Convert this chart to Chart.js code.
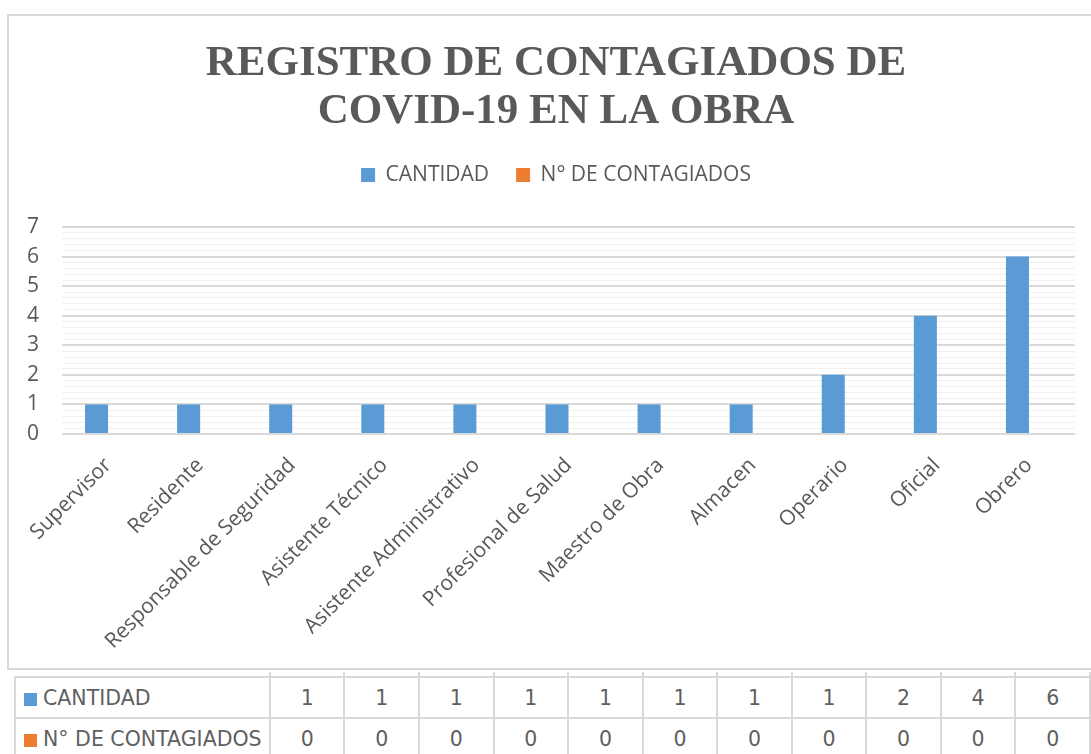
<!DOCTYPE html>
<html>
<head>
<meta charset="utf-8">
<script src="https://cdn.jsdelivr.net/npm/chart.js@4.4.0/dist/chart.umd.min.js"></script>
<style>
  html, body { margin: 0; padding: 0; background: #fff; }
  body { width: 1091px; height: 754px; overflow: hidden; position: relative; font-family: 'Open Sans', sans-serif; }
  #box { position: absolute; left: 7px; top: 14px; width: 1094px; height: 652px; border: 2px solid #d9d9d9; }
  #tabla { position: absolute; left: 14px; top: 672px; border-collapse: collapse; table-layout: fixed; color: #5f5f5f; font-family: 'DejaVu Sans', sans-serif; font-size: 20.5px; }
  #tabla td { border: 2px solid #d9d9d9; padding: 0; text-align: center; height: 39px; }
  #tabla tr.stub td { height: 4px; border-top: none; border-bottom: none; }
  #tabla tr.stub td:first-child { border-left: none; }
  #tabla td.nombre { text-align: left; padding-left: 8px; white-space: nowrap; }
  .cuadro { display: inline-block; width: 13px; height: 13px; margin-right: 6px; vertical-align: -1px; }
</style>
</head>
<body>
<div id="box"><canvas id="grafico" width="1094" height="652"></canvas></div>
<table id="tabla"></table>
<script>
// Datos del gráfico
const cargos = ['Supervisor', 'Residente', 'Responsable de Seguridad', 'Asistente Técnico',
  'Asistente Administrativo', 'Profesional de Salud', 'Maestro de Obra', 'Almacen',
  'Operario', 'Oficial', 'Obrero'];
const cantidad = [1, 1, 1, 1, 1, 1, 1, 1, 2, 4, 6];
const contagiados = [0, 0, 0, 0, 0, 0, 0, 0, 0, 0, 0];
const series = ['CANTIDAD', 'N° DE CONTAGIADOS'];
const colores = ['#5b9bd5', '#ed7d31'];

const gris = '#595959';
const esEntero = v => Math.abs(v - Math.round(v)) < 1e-6;

new Chart(document.getElementById('grafico').getContext('2d'), {
    type: 'bar',
    data: {
        labels: cargos,
        datasets: [
            { label: series[0], data: cantidad, backgroundColor: colores[0] },
            { label: series[1], data: contagiados, backgroundColor: colores[1] }
        ]
    },
    options: {
        responsive: false,
        animation: false,
        categoryPercentage: 0.5,
        barPercentage: 1.0,
        plugins: {
            title: {
                display: true,
                text: ['REGISTRO DE CONTAGIADOS DE', 'COVID-19 EN LA OBRA'],
                color: gris,
                font: { family: 'Liberation Serif', size: 43, weight: 'bold', lineHeight: 1.116 },
                padding: { top: 24, bottom: 1.5 }
            },
            legend: {
                position: 'top',
                labels: {
                    color: gris,
                    font: { family: 'Open Sans', size: 21 },
                    boxWidth: 14,
                    boxHeight: 14,
                    padding: 27
                }
            },
            // espacio entre la leyenda y el área del gráfico
            subtitle: {
                display: true,
                text: '',
                weight: 500,
                font: { size: 10, lineHeight: 1 },
                padding: { top: 21.5, bottom: 0 }
            },
            tooltip: { enabled: false }
        },
        scales: {
            x: {
                grid: { display: false },
                border: { display: false },
                ticks: {
                    color: gris,
                    font: { family: 'Open Sans', size: 21 },
                    autoSkip: false,
                    minRotation: 45,
                    maxRotation: 45,
                    padding: 11
                },
                afterFit: s => { s.height = 234; }
            },
            y: {
                min: 0,
                max: 7,
                border: { display: false },
                grid: {
                    drawTicks: false,
                    color: c => esEntero(c.tick.value) ? '#d9d9d9' : '#f0f0f0',
                    lineWidth: c => esEntero(c.tick.value) ? 2 : 1
                },
                ticks: {
                    stepSize: 0.2,
                    maxTicksLimit: 100,
                    autoSkip: false,
                    color: gris,
                    font: { family: 'Open Sans', size: 21 },
                    padding: 23,
                    callback: v => esEntero(v) ? Math.round(v) : ''
                },
                afterFit: s => { s.width = 53; }
            },
            // eje vacío a la derecha para dejar el margen sin descentrar el título
            margen: {
                position: 'right',
                display: true,
                grid: { display: false },
                border: { display: false },
                ticks: { display: false },
                afterFit: s => { s.width = 28; }
            }
        }
    }
});

// Tabla de datos debajo del gráfico
const tabla = document.getElementById('tabla');
let html = '<colgroup><col style="width:255px">' + cargos.map(() => '<col style="width:75px">').join('') + '</colgroup>';
html += '<tr class="stub"><td></td>' + cargos.map(() => '<td></td>').join('') + '</tr>';
[cantidad, contagiados].forEach((fila, i) => {
    html += '<tr><td class="nombre"><span class="cuadro" style="background:' + colores[i] + '"></span>' + series[i] + '</td>';
    html += fila.map(v => '<td>' + v + '</td>').join('') + '</tr>';
});
tabla.innerHTML = html;
</script>
</body>
</html>
